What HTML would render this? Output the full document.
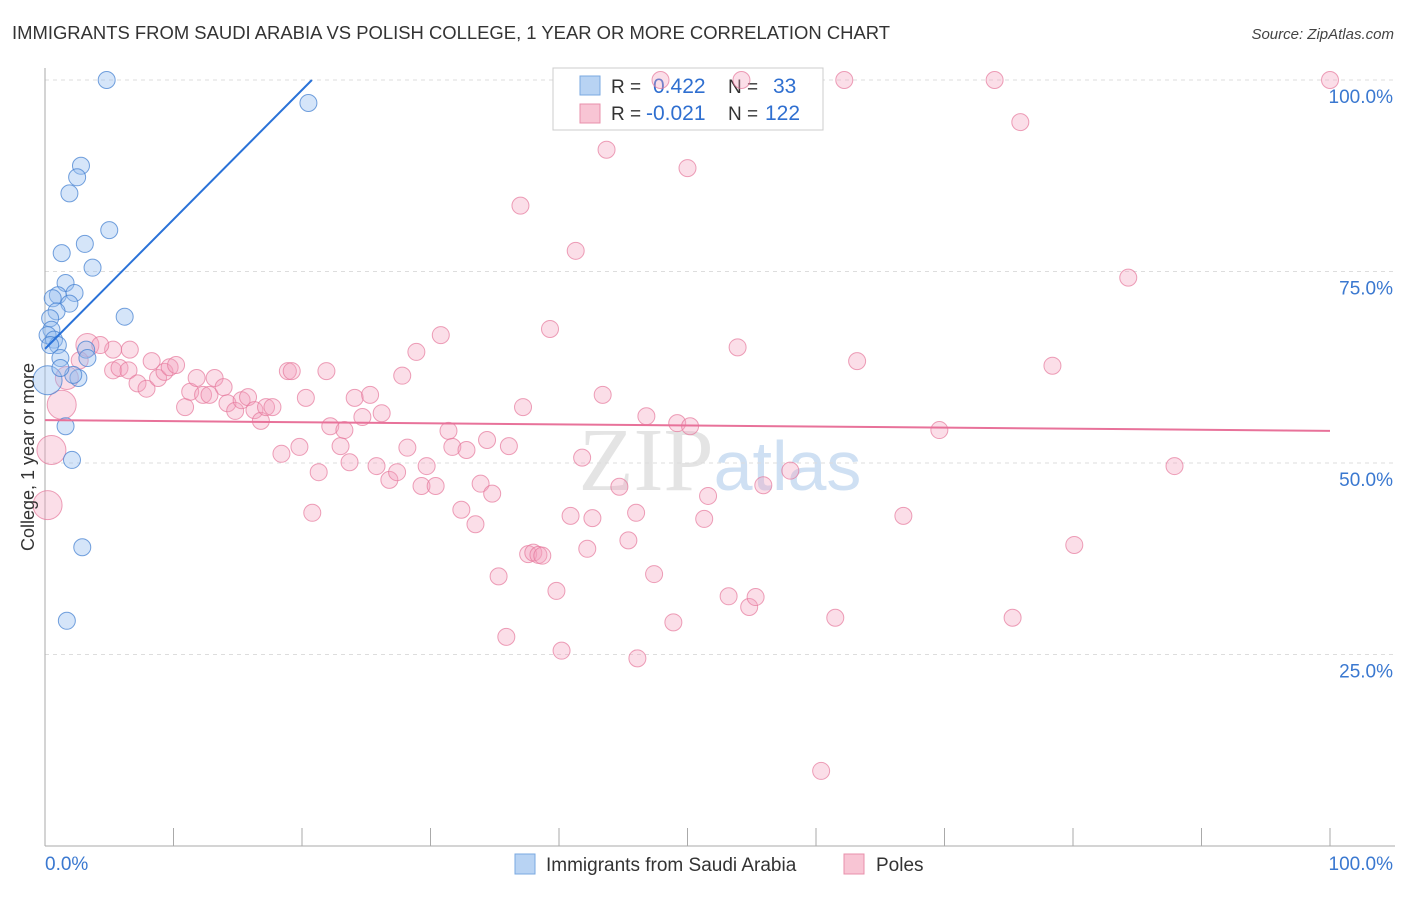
<!DOCTYPE html>
<html><head><meta charset="utf-8"><style>
body{margin:0;background:#fff;font-family:"Liberation Sans",sans-serif;}
</style></head><body>
<svg id="chart" width="1406" height="892" xmlns="http://www.w3.org/2000/svg" font-family="Liberation Sans, sans-serif">
<text x="12" y="39" font-size="18" fill="#333" textLength="878" lengthAdjust="spacingAndGlyphs">IMMIGRANTS FROM SAUDI ARABIA VS POLISH COLLEGE, 1 YEAR OR MORE CORRELATION CHART</text>
<text x="1394" y="39" font-size="15" fill="#444" text-anchor="end" font-style="italic">Source: ZipAtlas.com</text>
<text x="720" y="490" font-size="90" fill="#e4e4e4" text-anchor="middle" font-family="Liberation Serif, serif">ZIP<tspan fill="#cfe0f3" font-family="Liberation Sans, sans-serif" font-size="70">atlas</tspan></text>
<g id="grid"></g>
<g id="axes"></g>
<g>
<rect x="553" y="68" width="270" height="62" fill="#fff" stroke="#ccc"/>
<rect x="580" y="76" width="20" height="19" fill="#b8d3f3" stroke="#7aa8e0"/>
<text x="611" y="93" font-size="19" fill="#333">R = </text><text x="653" y="93" font-size="21" fill="#2f6fd0">0.422</text>
<text x="728" y="93" font-size="19" fill="#333">N = </text><text x="773" y="93" font-size="21" fill="#2f6fd0">33</text>
<rect x="580" y="104" width="20" height="19" fill="#f8c5d4" stroke="#e890ab"/>
<text x="611" y="120" font-size="19" fill="#333">R = </text><text x="646" y="120" font-size="21" fill="#2f6fd0">-0.021</text>
<text x="728" y="120" font-size="19" fill="#333">N = </text><text x="765" y="120" font-size="21" fill="#2f6fd0">122</text>
</g>
<g id="marks"></g>
<text transform="translate(34,457) rotate(-90)" font-size="18" fill="#333" text-anchor="middle">College, 1 year or more</text>
<g>
<rect x="515" y="854" width="20" height="20" fill="#b8d3f3" stroke="#7aa8e0"/>
<text x="546" y="871" font-size="19" fill="#333">Immigrants from Saudi Arabia</text>
<rect x="844" y="854" width="20" height="20" fill="#f8c5d4" stroke="#e890ab"/>
<text x="876" y="871" font-size="19" fill="#333">Poles</text>
</g>
</svg>
<script>
const yTicks=[25,50,75,100];
const yTickLabels=["25.0%","50.0%","75.0%","100.0%"];
const xTickLabels=["0.0%","100.0%"];
const blueX=[4.8,20.5,2.8,2.5,1.9,5.0,3.1,1.3,3.7,1.6,1.0,2.3,0.6,1.9,0.9,0.4,6.2,0.5,0.2,0.7,1.0,0.4,3.2,1.2,3.3,2.6,2.2,0.2,1.6,2.1,2.9,1.7,1.2];
const blueY=[100,97,88.8,87.3,85.2,80.4,78.6,77.4,75.5,73.5,71.9,72.2,71.5,70.8,69.8,68.9,69.1,67.4,66.7,66.1,65.4,65.4,64.8,63.7,63.7,61.1,61.5,60.8,54.8,50.4,39.0,29.4,62.4];
const blueW=[1,1,1,1,1,1,1,1,1,1,1,1,1,1,1,1,1,1,1,1,1,1,1,1,1,1,1,3,1,1,1,1,1];
const pinkX=[5.3,5.8,6.5,7.2,7.9,8.3,8.8,9.3,9.7,10.2,10.9,11.3,11.8,12.3,12.8,13.2,13.9,14.2,14.8,15.3,15.8,16.3,16.8,17.2,17.7,18.4,18.9,19.2,19.8,20.3,20.8,21.3,21.9,22.2,23.0,23.3,23.7,24.1,24.7,25.3,25.8,26.2,26.8,27.4,27.8,28.2,28.9,29.3,29.7,30.4,30.8,31.4,31.7,32.4,32.8,33.5,33.9,34.4,34.8,35.3,35.9,36.1,37.0,37.2,37.6,38.0,38.4,38.7,39.3,39.8,40.2,40.9,41.3,41.8,42.2,42.6,43.4,43.7,44.7,45.4,46.0,46.1,46.8,47.4,47.9,48.9,49.2,50.0,50.2,51.3,51.6,53.2,53.9,54.2,54.8,55.3,55.9,58.0,60.4,61.5,62.2,63.2,66.8,69.6,73.9,75.3,75.9,78.4,80.1,84.3,87.9,100,3.3,5.3,6.6,2.7,1.7,1.3,0.5,0.2,4.3];
const pinkY=[62.1,62.4,62.1,60.4,59.7,63.3,61.1,61.9,62.5,62.8,57.3,59.3,61.1,58.9,58.9,61.1,59.9,57.8,56.8,58.2,58.6,56.9,55.5,57.3,57.3,51.2,62.0,62.0,52.1,58.5,43.5,48.8,62.0,54.8,52.2,54.3,50.1,58.5,56.0,58.9,49.6,56.5,47.8,48.8,61.4,52.0,64.5,47.0,49.6,47.0,66.7,54.2,52.1,43.9,51.7,42.0,47.3,53.0,46.0,35.2,27.3,52.2,83.6,57.3,38.1,38.3,38.0,37.9,67.5,33.3,25.5,43.1,77.7,50.7,38.8,42.8,58.9,90.9,46.9,39.9,43.5,24.5,56.1,35.5,100,29.2,55.2,88.5,54.8,42.7,45.7,32.6,65.1,100,31.2,32.5,47.1,49.0,9.8,29.8,100,63.3,43.1,54.3,100,29.8,94.5,62.7,39.3,74.2,49.6,100,65.4,64.8,64.8,63.4,61.1,57.6,51.7,44.5,65.4];
const pinkW=[];for(let i=0;i<pinkX.length;i++)pinkW.push(1);
pinkW[112]=2;pinkW[116]=2;pinkW[117]=3;pinkW[118]=3;pinkW[119]=3;
const blueTrend=[64.9,1.69];   // intercept, slope
const pinkTrend=[55.6,-0.014];

const NS="http://www.w3.org/2000/svg";
const X0=45,X1=1330,Y0=846,Y100=80;
const sx=v=>X0+(X1-X0)*v/100;
const sy=v=>Y0-(Y0-Y100)*v/100;
function mk(tag,attrs,parent){const e=document.createElementNS(NS,tag);for(const k in attrs)e.setAttribute(k,attrs[k]);parent.appendChild(e);return e;}
const grid=document.getElementById('grid'),axes=document.getElementById('axes'),marks=document.getElementById('marks');
yTicks.forEach((t,i)=>{
  const l=mk('line',{x1:X0,x2:1395,y1:sy(t),y2:sy(t),stroke:'#ddd','stroke-dasharray':'4,4'},grid);
  
  
  const tx=mk('text',{x:1393,y:sy(t)+23,'font-size':19,fill:'#3a78d0','text-anchor':'end'},axes);
  tx.textContent=yTickLabels[i];
  
  
});
const ya=mk('line',{x1:X0,x2:X0,y1:68,y2:Y0,stroke:'#aaa'},axes);


const xa=mk('line',{x1:X0,x2:1395,y1:Y0,y2:Y0,stroke:'#aaa'},axes);


for(let i=0;i<=10;i++){const t=mk('line',{x1:sx(i*10),x2:sx(i*10),y1:828,y2:Y0,stroke:'#aaa'},axes);

}
const xl0=mk('text',{x:45,y:870,'font-size':19,fill:'#3a78d0'},axes);xl0.textContent=xTickLabels[0];


const xl1=mk('text',{x:1393,y:870,'font-size':19,fill:'#3a78d0','text-anchor':'end'},axes);xl1.textContent=xTickLabels[1];



pinkX.forEach((x,i)=>{const c=mk('circle',{cx:sx(x),cy:sy(pinkY[i]),r:8.5+(pinkW[i]-1)*3,fill:'rgba(244,160,188,0.35)',stroke:'rgba(230,120,155,0.7)','stroke-width':1},marks);

});
blueX.forEach((x,i)=>{const c=mk('circle',{cx:sx(x),cy:sy(blueY[i]),r:8.5+(blueW[i]-1)*3,fill:'rgba(150,190,240,0.4)',stroke:'rgba(70,130,210,0.75)','stroke-width':1},marks);

});
const bxEnd=(100-blueTrend[0])/blueTrend[1];
const bl=mk('line',{x1:sx(0),y1:sy(blueTrend[0]),x2:sx(bxEnd),y2:sy(100),stroke:'#2a72d8','stroke-width':2},marks);


const pl=mk('line',{x1:sx(0),y1:sy(pinkTrend[0]),x2:sx(100),y2:sy(pinkTrend[0]+pinkTrend[1]*100),stroke:'#e8729a','stroke-width':2},marks);


</script>
</body></html>
